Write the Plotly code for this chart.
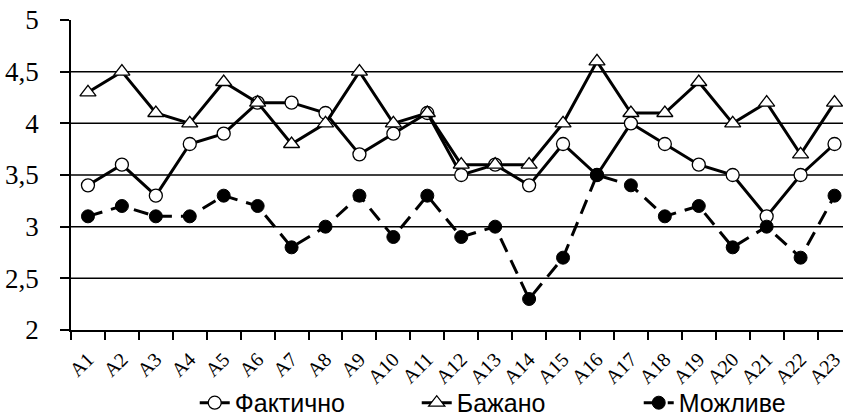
import plotly.graph_objects as go

categories = ["A%d" % i for i in range(1, 24)]
faktychno = [3.4, 3.6, 3.3, 3.8, 3.9, 4.2, 4.2, 4.1, 3.7, 3.9, 4.1, 3.5, 3.6, 3.4, 3.8, 3.5, 4.0, 3.8, 3.6, 3.5, 3.1, 3.5, 3.8]
bazhano = [4.3, 4.5, 4.1, 4.0, 4.4, 4.2, 3.8, 4.0, 4.5, 4.0, 4.1, 3.6, 3.6, 3.6, 4.0, 4.6, 4.1, 4.1, 4.4, 4.0, 4.2, 3.7, 4.2]
mozhlyve = [3.1, 3.2, 3.1, 3.1, 3.3, 3.2, 2.8, 3.0, 3.3, 2.9, 3.3, 2.9, 3.0, 2.3, 2.7, 3.5, 3.4, 3.1, 3.2, 2.8, 3.0, 2.7, 3.3]
y_tickvals = [2, 2.5, 3, 3.5, 4, 4.5, 5]
y_ticktext = ["2", "2,5", "3", "3,5", "4", "4,5", "5"]
grid_vals = [2.5, 3, 3.5, 4, 4.5]

SERIF = "Liberation Serif, DejaVu Serif Condensed, DejaVu Serif, serif"
SANS = "Liberation Sans, Arial, sans-serif"

fig = go.Figure()
fig.add_trace(go.Scatter(
    x=categories, y=faktychno, name="Фактично", mode="lines+markers",
    line=dict(color="black", width=3),
    marker=dict(symbol="circle", size=13, color="white", line=dict(color="black", width=1.3)),
))
fig.add_trace(go.Scatter(
    x=categories, y=bazhano, name="Бажано", mode="lines+markers",
    line=dict(color="black", width=3),
    marker=dict(symbol="triangle-up", size=14, color="white", line=dict(color="black", width=1.3)),
))
fig.add_trace(go.Scatter(
    x=categories, y=mozhlyve, name="Можливе", mode="lines+markers",
    line=dict(color="black", width=3, dash="15px,9px"),
    marker=dict(symbol="circle", size=13, color="black", line=dict(color="black", width=1)),
))

for g in grid_vals:
    fig.add_shape(type="line", xref="paper", x0=0, x1=1, yref="y", y0=g, y1=g,
                  line=dict(color="black", width=1.5), layer="below")

fig.update_layout(
    width=843, height=418,
    margin=dict(l=71, r=0, t=20, b=88, autoexpand=False),
    paper_bgcolor="white", plot_bgcolor="white",
    showlegend=True,
    legend=dict(orientation="h", x=0.231, xanchor="left", xref="container",
                y=0.036, yanchor="middle", yref="container", bgcolor="rgba(0,0,0,0)",
                font=dict(family=SANS, size=25, color="black"),
                entrywidth=177, entrywidthmode="pixels", tracegroupgap=0),
)
fig.update_xaxes(
    range=[-0.5, 22.25], showgrid=False, showline=True, linecolor="black", linewidth=1.5,
    ticks="outside", tickson="boundaries", ticklen=8, tickcolor="black", tickwidth=1.5,
    tickangle=-45, automargin=False, ticklabelstandoff=8,
    tickfont=dict(family=SERIF, size=20, color="black"),
)
fig.update_yaxes(
    range=[2, 5], tickvals=y_tickvals, ticktext=y_ticktext, showgrid=False,
    showline=True, linecolor="black", linewidth=1.5, zeroline=False,
    ticks="outside", ticklen=9, tickcolor="black", tickwidth=1.5,
    ticklabelstandoff=16, automargin=False,
    tickfont=dict(family=SERIF, size=27, color="black"),
)

fig.write_html("out.html", config={"displayModeBar": False},
               post_script="document.body.style.margin='0';document.body.style.padding='0';")
